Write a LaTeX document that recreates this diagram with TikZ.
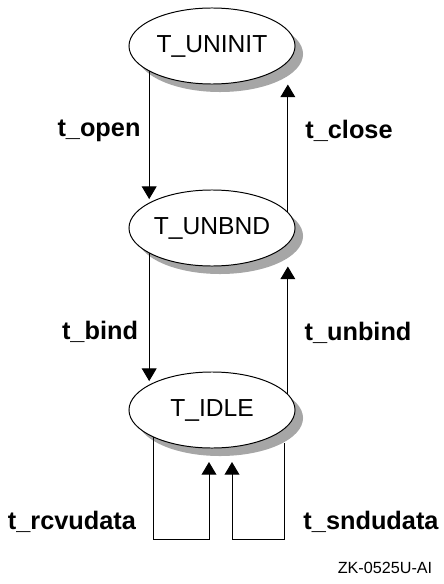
\documentclass[tikz,border=0pt]{standalone}
\usepackage{fontspec}
\setmainfont{Liberation Sans}
\usetikzlibrary{shapes.geometric,shadows,arrows.meta}

\begin{document}
\begin{tikzpicture}[x=0.025cm,y=-0.025cm,
    state/.style={ellipse,draw,line width=0.7pt,fill=white,
      minimum width=4.15cm,minimum height=1.9cm,inner sep=0pt,
      font=\fontsize{17.5}{20}\selectfont,
      drop shadow={shadow xshift=0.2cm,shadow yshift=-0.2cm,fill=black!35,opacity=1}},
    arr/.style={line width=0.7pt,-{Triangle[length=9pt,width=10.5pt]}},
    lbl/.style={font=\fontsize{18}{21}\selectfont\bfseries}]
                    \useasboundingbox (0,0) rectangle (443,584);
                    % states
                    \node[state] (uninit) at (212,46) {T\_UNINIT};
                    \node[state] (unbnd) at (212,228) {T\_UNBND};
                    \node[state] (idle) at (212,410) {T\_IDLE};
                    % transitions
                    \draw[arr,shorten >=2.5pt] (uninit.202)--(unbnd.158);
                    \draw[arr] (unbnd.12)--(unbnd.12 |- uninit.south);
                    \draw[arr,shorten >=2.5pt] (unbnd.202)--(idle.158);
                    \draw[arr] (idle.12)--(idle.12 |- unbnd.south);
                    \coordinate (rcvturn) at (209,539);
                    \coordinate (rcvend) at (209,462);
                    \coordinate (sndstart) at (284,443);
                    \coordinate (sndturn) at (232,539);
                    \coordinate (sndend) at (232,462);
                    \draw[arr] (idle.205) |- (rcvturn)--(rcvend);
                    \draw[arr] (sndstart) |- (sndturn)--(sndend);
                    % labels
                    \node[lbl] (open) at (99,131) {t\_open};
                    \node[lbl] (close) at (349,131) {t\_close};
                    \node[lbl] (bind) at (100,332) {t\_bind};
                    \node[lbl] (unbind) at (358,333) {t\_unbind};
                    \node[lbl] (rcvudata) at (72,522) {t\_rcvudata};
                    \node[lbl] (sndudata) at (371,522) {t\_sndudata};
                    \node[font=\fontsize{11.5}{13}\selectfont] (tag) at (385,568) {ZK-0525U-AI};
                \end{tikzpicture}
\end{document}
